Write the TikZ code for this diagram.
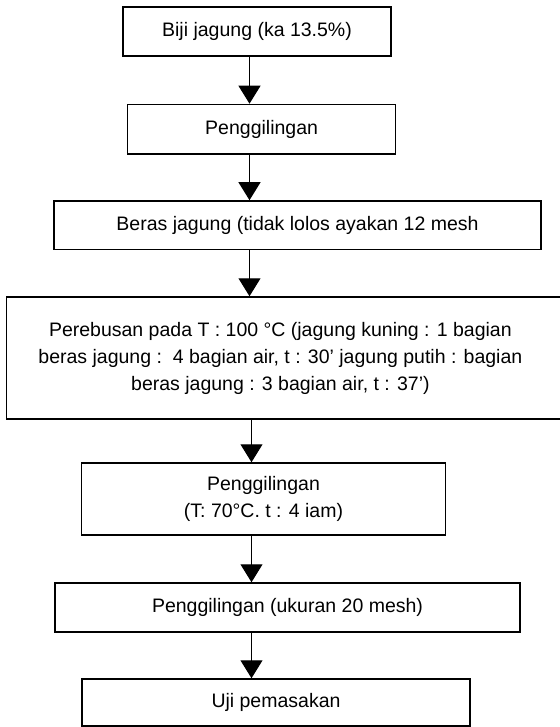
\documentclass[tikz,border=0pt]{standalone}
\usepackage{fontspec}
\setmainfont{Liberation Sans}
\usetikzlibrary{arrows.meta}
\begin{document}
\begin{tikzpicture}[x=1pt,y=-1pt,
  box/.style={draw, line width=1.5pt, inner sep=0pt, align=center,
    font=\fontsize{19.5}{27}\selectfont},
  arr/.style={line width=1.1pt, -{Triangle[width=22pt,length=18pt]}}]
\useasboundingbox (0,0) rectangle (559,727);
\node[box, minimum width=268pt, minimum height=49pt] (b1) at (257,31.5) {Biji jagung (ka 13.5\%)};
\node[box, minimum width=268pt, minimum height=49.5pt] (b2) at (261.6,129.2) {Penggilingan};
\node[box, minimum width=487pt, minimum height=48.5pt] (b3) at (297.5,225.2) {Beras jagung (tidak lolos ayakan 12 mesh};
\node[box, minimum width=568pt, minimum height=122pt] (b4) at (290.4,358) {\begin{tabular}{@{}c@{\hspace{20pt}}}Perebusan pada T : 100 °C (jagung kuning : 1 bagian\\beras jagung :\ \ 4 bagian air, t : 30' jagung putih : bagian\\beras jagung : 3 bagian air, t : 37')\end{tabular}};
\node[box, minimum width=364pt, minimum height=72pt] (b5) at (263.5,499) {Penggilingan\\(T: 70°C. t : 4 iam)};
\node[box, minimum width=465pt, minimum height=49pt] (b6) at (287.5,607.5) {Penggilingan (ukuran 20 mesh)};
\node[box, minimum width=388pt, minimum height=47pt] (b7) at (276,702.5) {Uji pemasakan};
\coordinate (ax1) at (249.5,0);
\coordinate (ax2) at (251.5,0);
\draw[arr] (ax1 |- b1.south) -- (ax1 |- b2.north);
\draw[arr] (ax1 |- b2.south) -- (ax1 |- b3.north);
\draw[arr] (ax1 |- b3.south) -- (ax1 |- b4.north);
\draw[arr] (ax2 |- b4.south) -- (ax2 |- b5.north);
\draw[arr] (ax2 |- b5.south) -- (ax2 |- b6.north);
\draw[arr] (ax2 |- b6.south) -- (ax2 |- b7.north);
\end{tikzpicture}
\end{document}
